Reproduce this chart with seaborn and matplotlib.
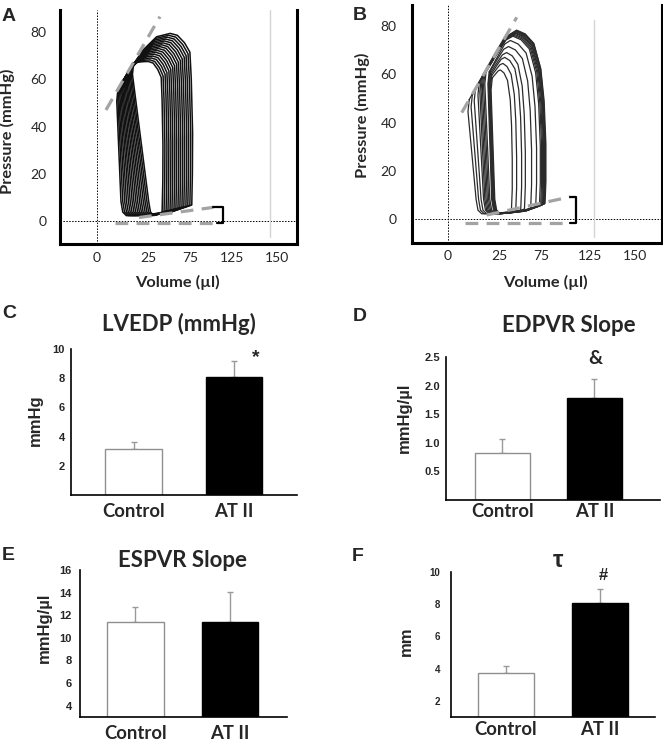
import pandas as pd
import seaborn as sns
import matplotlib.pyplot as plt

# ---------------- bar panels (mean, upper error bar) ----------------
groups = ['Control', 'AT II']
lvedp = [3.13, 8.06]
lvedp_err = [0.52, 1.14]
edpvr_slope = [0.82, 1.78]
edpvr_err = [0.24, 0.34]
espvr_slope = [11.44, 11.44]
espvr_err = [1.26, 2.59]
tau = [3.72, 8.10]
tau_err = [0.45, 0.83]

# ---------------- PV loops, outer -> inner ----------------
# volume in axis units (tick labels of the source are not linear), pressure in mmHg
# panel A (control)
a_lb = [20.5, 22.0, 23.6, 25.1, 26.7, 28.2, 29.8, 31.3, 32.9, 34.4, 36.0, 37.5, 39.1, 40.6, 42.1, 43.6]
a_lt = [17.5, 18.4, 19.2, 20.1, 21.0, 21.9, 22.7, 23.6, 24.5, 25.4, 26.2, 27.1, 28.0, 28.9, 29.7, 30.6]
a_ptl = [55.8, 56.6, 57.3, 58.1, 58.9, 59.6, 60.3, 61.1, 61.9, 62.7, 63.4, 64.2, 65.0, 65.8, 66.5, 67.0]
a_vpk = [61.0, 59.8, 58.6, 57.4, 56.2, 55.0, 53.8, 52.6, 51.4, 50.2, 49.0, 47.8, 46.6, 45.4, 44.2, 43.0]
a_pk = [79.4, 78.6, 77.8, 77.0, 76.2, 75.4, 74.6, 73.8, 73.0, 72.2, 71.4, 70.6, 69.8, 69.0, 68.2, 67.5]
a_r = [79.7, 78.1, 76.4, 74.8, 73.1, 71.5, 69.8, 68.2, 66.5, 64.9, 63.2, 61.6, 59.9, 58.3, 56.6, 55.0]
a_ped = [6.8, 6.6, 6.4, 6.2, 6.1, 5.9, 5.7, 5.5, 5.3, 5.1, 4.9, 4.7, 4.6, 4.4, 4.2, 4.0]
a_pmin = 2.3
# outline of the loop top/shoulder
a_top_t = [0.26, 0.49, 0.74]
a_top_b = [0.14, 0.22, 0.20]
a_sh_u = [0.32, 0.64, 0.88, 0.94, 1.0, 0.99]
a_sh_w = [0.99, 0.95, 0.90, 0.76, 0.47, 0.25]

# panel B (AT II)
b_lb = [23.0, 25.0, 27.0, 29.0, 30.0, 31.0, 32.0, 33.0, 34.0, 35.5, 36.0, 36.5, 37.0, 37.5, 38.0]
b_lt = [17.0, 19.5, 22.0, 25.0, 26.5, 27.5, 28.5, 29.5, 30.5, 33.0, 33.5, 34.0, 34.5, 35.0, 35.5]
b_ptl = [49.5, 51.5, 54.0, 56.5, 57.8, 58.6, 59.5, 60.3, 61.0, 61.0, 61.0, 60.5, 60.0, 59.5, 58.5]
b_vpk = [55.0, 55.0, 54.5, 54.0, 53.5, 53.5, 53.0, 52.5, 52.0, 50.0, 48.5, 47.0, 45.5, 44.0, 42.0]
b_pk = [78.3, 78.0, 77.8, 77.6, 77.3, 77.0, 76.6, 76.2, 75.8, 74.0, 71.5, 69.0, 67.0, 64.5, 61.8]
b_r = [78.0, 77.5, 78.5, 77.8, 77.0, 76.5, 75.8, 75.0, 74.0, 71.0, 67.0, 62.0, 59.0, 55.0, 51.5]
b_ped = [6.4, 6.2, 6.5, 6.3, 6.1, 6.0, 5.8, 5.6, 5.4, 5.0, 4.6, 4.2, 3.8, 3.4, 3.0]
b_pmin = 2.2
b_top_t = [0.26, 0.49, 0.74]
b_top_b = [0.06, 0.11, 0.15]
b_sh_u = [0.30, 0.60, 0.83, 0.94, 1.0, 1.0]
b_sh_w = [0.98, 0.93, 0.80, 0.63, 0.40, 0.20]

# ESPVR / EDPVR fits and bracket
a_espvr = ([7.5, 52.5], [47.0, 86.5])
a_edpvr = ([35.0, 97.0], [1.5, 5.8])
a_base = ([15.0, 100.0], [-0.7, -0.7])
a_bracket_vol = 104.7
b_espvr = ([11.0, 55.1], [44.1, 83.6])
b_edpvr = ([31.0, 97.9], [1.7, 9.2])
b_base = ([13.6, 97.9], [-1.5, -1.5])
b_bracket_vol = 102.7

a_tick_pos = [0, 42.5, 77.5, 112.5, 150]
b_tick_pos = [0, 41.2, 74.6, 113.9, 150]
vol_tick_labels = ['0', '25', '75', '125', '150']
p_ticks = [0, 20, 40, 60, 80]
a_ref_vol = 144.2
b_ref_vol = 117.0

W, H = 663, 744
sns.set_style('white')
plt.rcParams['font.family'] = ['Lato', 'DejaVu Sans']
ARIAL = ['Liberation Sans', 'DejaVu Sans']

fig = plt.figure(figsize=(W / 100, H / 100), dpi=100)


def px_axes(l, t, r, b):
    return fig.add_axes([l / W, 1 - b / H, (r - l) / W, (b - t) / H])


def ftext(x, y, s, **kw):
    fig.text(x / W, 1 - y / H, s, **kw)


def loop_points(lb, lt, ptl, vpk, pk, r, ped, pmin, top_t, top_b, sh_u, sh_w):
    pts = [(lt, ptl)]
    for t, b in zip(top_t, top_b):
        pts.append((lt + t * (vpk - lt), ptl + (t + b) * (pk - ptl)))
    pts.append((vpk, pk))
    for u, w in zip(sh_u, sh_w):
        pts.append((vpk + u * (r - vpk), w * pk))
    pts.append((r - 0.7, ped))
    pts.append((lb + 0.7 * (r - lb), pmin + 0.35 * (ped - pmin)))
    pts.append((lb + 0.35 * (r - lb), pmin + 0.1 * (ped - pmin)))
    pts.append((lb + 4, pmin))
    pts.append((lb + 1, pmin + 1.5))
    pts.append((lb - 0.5, pmin + 6))
    pts.append((lt - 1.0, ptl - 5))
    pts.append((lt, ptl))
    return pts


def loops_frame(lbs, lts, ptls, vpks, pks, rs, peds, pmin, top_t, top_b, sh_u, sh_w):
    rows = []
    for i, vals in enumerate(zip(lbs, lts, ptls, vpks, pks, rs, peds)):
        for v, p in loop_points(*vals, pmin, top_t, top_b, sh_u, sh_w):
            rows.append((i, v, p))
    return pd.DataFrame(rows, columns=['loop', 'vol', 'p'])


def pv_panel(ax, df, color, lw, espvr, edpvr, base, bracket_vol, tick_pos,
             ref_vol, ref_span, xlim, ylim, ypad, xpad):
    ax.axhline(0, color='black', lw=0.7, ls=(0, (1.5, 1.5)), zorder=1)
    ax.axvline(0, color='black', lw=0.7, ls=(0, (1.5, 1.5)), zorder=1)
    ax.axvline(ref_vol, ymin=ref_span[0], ymax=ref_span[1], color='#d4d4d4', lw=1, zorder=1)
    sns.lineplot(data=df, x='vol', y='p', units='loop', estimator=None, sort=False,
                 color=color, lw=lw, ax=ax, legend=False, zorder=2)
    for xs, ys in (espvr, edpvr, base):
        ax.plot(xs, ys, color='#a3a3a3', lw=2.3, dashes=(4, 2.6), solid_capstyle='butt', zorder=3)
    ax.plot([edpvr[0][1], bracket_vol, bracket_vol, base[0][1]],
            [edpvr[1][1], edpvr[1][1], base[1][1], base[1][1]], color='black', lw=1.6, zorder=3)
    ax.set_xlim(xlim)
    ax.set_ylim(ylim)
    ax.set_xticks(tick_pos, vol_tick_labels, fontsize=10)
    ax.set_yticks(p_ticks, [str(t) for t in p_ticks], fontsize=10)
    ax.tick_params(axis='y', length=0, pad=ypad)
    ax.tick_params(axis='x', length=0, pad=xpad)
    ax.set_xlabel('')
    ax.set_ylabel('')
    ax.spines['top'].set_visible(False)
    for s in ('left', 'bottom', 'right'):
        ax.spines[s].set_linewidth(2.2)
        ax.spines[s].set_color('black')


def bar_panel(ax, vals, errs, width, xlim, ylim, yticks, ylabels, ysize, ypad, xpad, xtick_len=0):
    sns.barplot(x=groups, y=vals, hue=groups, palette=['white', 'black'], saturation=1,
                width=width, legend=False, ax=ax, linewidth=1, zorder=2)
    ax.patches[0].set_edgecolor('#8f8f8f')
    ax.patches[1].set_edgecolor('black')
    ax.errorbar([0, 1], vals, yerr=[[0, 0], errs], fmt='none', ecolor='#9a9a9a',
                elinewidth=1, capsize=2, capthick=1, zorder=1)
    ax.set_xlim(xlim)
    ax.set_ylim(ylim)
    ax.set_yticks(yticks, ylabels, fontsize=ysize, fontweight='bold', family=ARIAL)
    ax.set_xticks([0, 1], groups, fontsize=13.3, fontweight='bold')
    ax.tick_params(axis='y', length=0, pad=ypad)
    ax.tick_params(axis='x', length=xtick_len, pad=xpad, color='#9a9a9a', width=1)
    ax.set_xlabel('')
    ax.set_ylabel('')
    sns.despine(ax=ax)
    for s in ('left', 'bottom'):
        ax.spines[s].set_linewidth(1.2)
        ax.spines[s].set_color('black')


# ---------------- A ----------------
axA = px_axes(60, 10, 297, 244)
dfA = loops_frame(a_lb, a_lt, a_ptl, a_vpk, a_pk, a_r, a_ped, a_pmin,
                  a_top_t, a_top_b, a_sh_u, a_sh_w)
pv_panel(axA, dfA, '#111111', 1.1, a_espvr, a_edpvr, a_base, a_bracket_vol, a_tick_pos,
         a_ref_vol, (0.03, 1.0), (-30.8, 166.7), (-9.7, 89.3), 9.5, 6)

# ---------------- B ----------------
axB = px_axes(412, 5, 662, 243)
dfB = loops_frame(b_lb, b_lt, b_ptl, b_vpk, b_pk, b_r, b_ped, b_pmin,
                  b_top_t, b_top_b, b_sh_u, b_sh_w)
pv_panel(axB, dfB, '#2b2b2b', 0.9, b_espvr, b_edpvr, b_base, b_bracket_vol, b_tick_pos,
         b_ref_vol, (0.024, 0.937), (-28.9, 171.6), (-9.9, 88.7), 11, 5.3)

# ---------------- C ----------------
axC = px_axes(71, 349, 297, 495)
bar_panel(axC, lvedp, lvedp_err, 0.567, (-0.622, 1.627), (0, 10),
          [2, 4, 6, 8, 10], ['2', '4', '6', '8', '10'], 8, 4.3, 6)
axC.text(1.22, 9.43, '*', ha='center', va='center', fontsize=14, fontweight='bold', family=ARIAL)

# ---------------- D ----------------
axD = px_axes(446, 357, 660, 500)
bar_panel(axD, edpvr_slope, edpvr_err, 0.598, (-0.614, 1.712), (0, 2.5),
          [0.5, 1.0, 1.5, 2.0, 2.5], ['0.5', '1.0', '1.5', '2.0', '2.5'], 8, 4.3, 2.5)
axD.text(1.005, 2.48, '&', ha='center', va='center', fontsize=14, fontweight='bold')

# ---------------- E ----------------
axE = px_axes(80, 570, 287, 717)
bar_panel(axE, espvr_slope, espvr_err, 0.598, (-0.587, 1.603), (3, 16),
          [4, 6, 8, 10, 12, 14, 16], ['4', '6', '8', '10', '12', '14', '16'], 8, 5.8, 3,
          xtick_len=3)

# ---------------- F ----------------
axF = px_axes(451, 572, 655, 717)
bar_panel(axF, tau, tau_err, 0.596, (-0.585, 1.585), (1, 10),
          [2, 4, 6, 8, 10], ['2', '4', '6', '8', '10'], 7, 8, 3)
axF.text(1.03, 9.81, '#', ha='center', va='center', fontsize=12, fontweight='bold', family=ARIAL)

# ---------------- texts ----------------
for x, y, s in ((2, 20.7, 'A'), (353, 20, 'B'), (2, 318.3, 'C'),
                (353, 320.7, 'D'), (2, 560, 'E'), (352, 560.7, 'F')):
    ftext(x, y, s, ha='left', va='baseline', fontsize=14, fontweight='bold', family=ARIAL)

ftext(7.5, 131.7, 'Pressure (mmHg)', rotation=90, ha='center', va='center',
      fontsize=11.8, fontweight='bold')
ftext(177.5, 282.7, 'Volume (µl)', ha='center', va='center', fontsize=11.8, fontweight='bold')
ftext(362.5, 115, 'Pressure (mmHg)', rotation=90, ha='center', va='center',
      fontsize=11.8, fontweight='bold')
ftext(545, 282.7, 'Volume (µl)', ha='center', va='center', fontsize=11.8, fontweight='bold')

ftext(178.5, 330.7, 'LVEDP (mmHg)', ha='center', va='baseline', fontsize=16, fontweight='bold')
ftext(569, 331.7, 'EDPVR Slope', ha='center', va='baseline', fontsize=16, fontweight='bold')
ftext(183, 566.7, 'ESPVR Slope', ha='center', va='baseline', fontsize=16, fontweight='bold')
ftext(558, 566.7, 'τ', ha='center', va='baseline', fontsize=17, fontweight='bold', family=ARIAL)

ftext(35, 420, 'mmHg', rotation=90, ha='center', va='center', fontsize=12,
      fontweight='bold', family=ARIAL)
ftext(404.5, 417.5, 'mmHg/µl', rotation=90, ha='center', va='center', fontsize=12,
      fontweight='bold', family=ARIAL)
ftext(44, 628, 'mmHg/µl', rotation=90, ha='center', va='center', fontsize=12,
      fontweight='bold', family=ARIAL)
ftext(406, 641, 'mm', rotation=90, ha='center', va='center', fontsize=12,
      fontweight='bold', family=ARIAL)

fig.savefig('out.png', dpi=100)
